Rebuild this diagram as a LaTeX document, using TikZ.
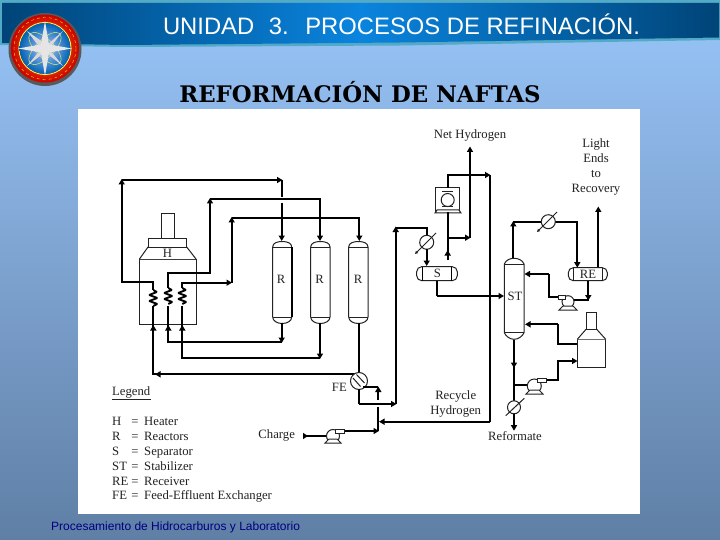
\documentclass[tikz,border=0pt]{standalone}
\usepackage{fontspec}
\setmainfont{Liberation Serif}
\newfontfamily\arialf{Liberation Sans}
\newfontfamily\slabf{DejaVu Serif}
\usetikzlibrary{arrows.meta,shadings}
\definecolor{bgtop}{HTML}{97C5FA}
\definecolor{bgmid}{HTML}{8DB6E6}
\definecolor{bgbot}{HTML}{5F7FA5}
\definecolor{bandl}{HTML}{004478}
\definecolor{bandr}{HTML}{0A84DE}
\definecolor{bandedge}{HTML}{52AAC6}
\definecolor{ink}{HTML}{222222}
\tikzset{
 pipe/.style={line width=1.9pt,draw=black},
 thinl/.style={line width=1pt,draw=ink},
 go/.style={pipe,-{Triangle[length=5.5pt,width=6pt]}},
 lab/.style={font=\fontsize{12.7}{13}\selectfont,text=ink,inner sep=0pt,text height=8.5pt,text depth=2.5pt,yshift=-1.2pt},
 leg/.style={lab,anchor=west},
 equip/.style={line width=1pt,draw=ink,fill=white},
}
\begin{document}
\begin{tikzpicture}[x=1pt,y=-1pt]
\useasboundingbox (0,0) rectangle (720,540);
\shade[top color=bgtop,bottom color=bgmid] (0,0) rectangle (720,120);
\shade[top color=bgmid,bottom color=bgbot] (0,120) rectangle (720,540);
% header
\fill[bandedge] (0,0) -- (720,0) -- (720,40) -- (400,45.5) -- (125,47) -- (0,45) -- cycle;
\shade[left color=bandl,right color=bandl,middle color=bandr] (2,3) -- (719,3) -- (719,37.5) -- (400,42.5) -- (125,45) -- (2,43) -- cycle;
\node[font=\arialf\fontsize{23.8}{24}\selectfont,text=white,inner sep=0pt] (title) at (401.5,24) {UNIDAD\,\, 3.\,\, PROCESOS DE REFINACIÓN.};
\node[font=\slabf\bfseries\fontsize{22.8}{23}\selectfont,text=black,inner sep=0pt] (sub) at (360,92) {REFORMACIÓN DE NAFTAS};
% logo
\fill[gray!70!black] (45,49.5) circle (36.5);
\shade[inner color=orange!85!yellow,outer color=red!80!black] (45,48.5) circle (34);
\draw[yellow!80!orange,line width=.4pt,dashed] (45,48.5) circle (31);
\draw[yellow!70!white,line width=1pt] (45,48.5) circle (26);
\shade[inner color=cyan!25!blue!30!white,outer color=blue!45!cyan!70!black] (45,48.5) circle (25.5);
\draw[yellow!60!green!60!white,line width=.6pt,rotate around={45:(45,48.5)}] (45,48.5) ellipse (21 and 9);
\draw[yellow!60!green!60!white,line width=.6pt,rotate around={-45:(45,48.5)}] (45,48.5) ellipse (21 and 9);
\fill[gray!30] (27,31) -- (47,45) -- (63,31) -- (49,49) -- (63,66) -- (45,52) -- (27,66) -- (41,49) -- cycle;
\fill[white!80!gray] (45,21) -- (49,44.5) -- (72,48.5) -- (49,52.5) -- (45,76) -- (41,52.5) -- (18,48.5) -- (41,44.5) -- cycle;
% sheet
\fill[white] (78,109) rectangle (640,514);
\node[font=\arialf\fontsize{12}{12}\selectfont,text={rgb,255:red,0;green,0;blue,130},inner sep=0pt,anchor=west] (foot) at (51,527) {Procesamiento de Hidrocarburos y Laboratorio};
% heater
\draw[equip] (139.5,259) rectangle (196,324);
\draw[equip] (161.7,214) rectangle (174.3,238);
\draw[equip] (139.5,259) -- (148,247) -- (186.7,247) -- (196,259);
\draw[equip] (148,238) rectangle (186.7,247);
\node[lab] (h) at (167.5,253) {H};
% reactors
\foreach \n/\xa/\xb in {ra/272.7/291.7,rb/310.7/330,rc/348.7/368}{
 \draw[equip] (\xa,247) .. controls (\xa,243) and ({(\xa+\xb)/2-5},241.5) .. ({(\xa+\xb)/2},241.5) .. controls ({(\xa+\xb)/2+5},241.5) and (\xb,243) .. (\xb,247)
  -- (\xb,317) .. controls (\xb,321) and ({(\xa+\xb)/2+5},323.5) .. ({(\xa+\xb)/2},323.5) .. controls ({(\xa+\xb)/2-5},323.5) and (\xa,321) .. (\xa,317) -- cycle;
 \draw[thinl] (\xa,247) -- (\xb,247) (\xa,317) -- (\xb,317);
}
\draw[pipe] (291.7,247) -- (291.7,317);
\node[lab] (r1) at (281,279) {R};
\node[lab] (r2) at (319.5,279) {R};
\node[lab] (r3) at (358,279) {R};
% coils
\foreach \x/\t/\b in {153.3/290/306,168.3/288/306,182.3/288/306}{
 \draw[pipe,line join=bevel] (\x,\t) -- (\x+3.5,{\t+2}) -- (\x-4,{\t+5}) -- (\x+4,{\t+8}) -- (\x-4,{\t+11}) -- (\x+4,{\t+14}) -- (\x,{\t+16});
}
% top loops
\coordinate (c1t) at (153.3,290);
\coordinate (c2t) at (168.3,288);
\coordinate (c3t) at (182.3,288);
\draw[go] (c1t) |- (121.7,281.7) -- (121.7,179);
\draw[go] (121.7,180) -- (282.5,180);
\draw[pipe] (281.7,180) -- (281.7,197);
\draw[go] (281.7,203) -- (281.7,241);
\draw[go] (c2t) |- (210,273) -- (210,198);
\draw[pipe] (210,199) -- (320,199) -- (320,220);
\draw[go] (320,218) -- (320,241);
\draw[go] (c3t) |- (232,282.7);
\draw[go] (231.7,282.7) -- (231.7,217);
\draw[pipe] (231.7,218) -- (359.3,218) -- (359.3,225);
\draw[go] (359.3,218) -- (359.3,241);
% return lines
\coordinate (c1b) at (153.3,306);
\coordinate (c2b) at (168.3,306);
\coordinate (c3b) at (182.3,306);
\draw[go] (359.3,374.3) -- (153.3,374.3) -- (153.3,325);
\draw[go] (200,374.3) -- (155,374.3);
\draw[pipe] (153.3,330) -- (c1b);
\draw[go] (281.7,323) -- (281.7,343);
\draw[go] (281.7,342.3) -- (168.3,342.3) -- (168.3,325);
\draw[pipe] (168.3,330) -- (c2b);
\draw[go] (320,323) -- (320,359);
\draw[go] (320,358.3) -- (182.3,358.3) -- (182.3,325);
\draw[pipe] (182.3,330) -- (c3b);
\draw[pipe] (359.3,323) -- (359.3,374);
% FE
\node[equip,circle,minimum size=17pt,inner sep=0pt] (fe) at (359,381) {};
\draw[thinl] (353,378) -- (360.5,386.5) (356.5,374.5) -- (364.5,383);
\node[lab,anchor=east] (felab) at (347,387) {FE};
% FE piping
\draw[pipe] (363,387) -- (378.3,387);
\draw[go] (378.3,400) -- (378.3,386.5);
\draw[pipe] (359,389) -- (359,404);
\draw[go] (359,404) -- (396.5,404);
\draw[pipe] (395.7,404) -- (395.7,228);
\draw[go] (395.7,240) -- (395.7,226.5);
\draw[pipe] (395.7,228) -- (426.7,228) -- (426.7,235);
% charge
\node[lab] (chg) at (276.7,434.3) {Charge};
\node[equip,circle,minimum size=13pt,inner sep=0pt] (pc) at (333,436) {};
\draw[equip] (335,429) rectangle (344.5,433);
\draw[equip] (325,443) -- (341,443) -- (337,439) -- (329,439) -- cycle;
\coordinate (chs) at (303,436);
\draw[pipe,{Triangle[reversed,length=5pt,width=6pt]}-] (chs) -- (pc.west);
\draw[go] (344.5,431) -- (379,431);
\draw[pipe] (378.3,431) -- (378.3,406.7);
% compressor
\draw[equip] (435.7,188) rectangle (459,212);
\draw[equip] (435,213) -- (461,213) -- (459,210) -- (437,210) -- cycle;
\node[equip,circle,minimum size=13pt,inner sep=0pt] (cp) at (447.7,200) {};
\draw[thinl] (442,192) -- (453,192) (442,207) -- (453,207);
% net hydrogen
\node[lab] (nh) at (470,134) {Net Hydrogen};
\draw[go] (447.7,260) -- (447.7,258) -- (447.7,250);
\draw[pipe] (447.7,252) -- (447.7,212);
\draw[pipe] (447.7,188) -- (447.7,175) -- (486,175);
\draw[go] (480,175) -- (490.5,175);
\draw[go] (447.7,237.7) -- (470.5,237.7);
\draw[go] (470,237.7) -- (470,146.5);
% recycle line
\draw[pipe] (490,175) -- (490,421.7);
\draw[go] (490,421.7) -- (379,421.7);
\node[lab] (rh1) at (455.7,395) {Recycle};
\node[lab] (rh2) at (455.7,410) {Hydrogen};
% separator S
\draw[equip,rounded corners=5pt] (416.7,266.7) rectangle (457.3,280.7);
\draw[pipe,line width=1.3pt] (422.5,267) -- (422.5,280.5) (451.5,267) -- (451.5,280.5);
\node[lab] (s) at (437.5,273.5) {S};
\node[equip,circle,minimum size=14pt,inner sep=0pt] (ex1) at (426.7,242.3) {};
\draw[thinl,-{Triangle[length=3pt,width=3pt]}] (436,233) -- (415,254);
\draw[go] (426.7,249) -- (426.7,266);
\draw[pipe] (437.3,281) -- (437.3,296);
\draw[go] (437.3,296) -- (504,296);
% stabilizer
\draw[equip] (504.3,264) .. controls (506,260) and (510,258.3) .. (514,258.3) .. controls (518,258.3) and (522.5,260) .. (524,264) -- (524,332.7) .. controls (522.5,336.5) and (518,339.3) .. (514,339.3) .. controls (510,339.3) and (506,336.5) .. (504.3,332.7) -- cycle;
\draw[thinl] (504.3,264) -- (524,264) (504.3,332.7) -- (524,332.7);
\node[lab] (st) at (515,296) {ST};
% overhead
\draw[go] (513.3,258) -- (513.3,221);
\draw[pipe] (513.3,221.7) -- (577.3,221.7) -- (577.3,250);
\draw[go] (577.3,250) -- (577.3,267.7);
\node[equip,circle,minimum size=14pt,inner sep=0pt] (ex2) at (548.3,221.7) {};
\draw[thinl,-{Triangle[length=3pt,width=3pt]}] (557,212) -- (537,232);
\draw[go] (598.3,267.7) -- (598.3,206.5);
\draw[equip,rounded corners=5pt] (568.3,267.7) rectangle (607.3,280.7);
\draw[thinl] (573,268) -- (573,280.5) (602.5,268) -- (602.5,280.5);
\node[lab] (re) at (588,274.5) {RE};
\node[lab] (l1) at (596,143) {Light};
\node[lab] (l2) at (596,158) {Ends};
\node[lab] (l3) at (596,173) {to};
\node[lab] (l4) at (596,188) {Recovery};
% reflux pump
\draw[pipe] (588.3,281) -- (588.3,300) -- (572,300);
\draw[go] (588.3,285) -- (588.3,300.5);
\node[equip,circle,minimum size=12pt,inner sep=0pt] (pr) at (568,301.7) {};
\draw[equip] (558,295) rectangle (565.5,299);
\draw[equip] (559,310) -- (577,310) -- (573,306) -- (563,306) -- cycle;
\draw[pipe] (558,297) -- (549,297) -- (549,274);
\draw[go] (549,274) -- (524.5,274);
% furnace
\draw[equip] (577.3,339.3) rectangle (605.7,367);
\draw[equip] (577.3,339.3) -- (586,329.3) -- (596.7,329.3) -- (605.7,339.3);
\draw[equip] (586,312.7) rectangle (596.7,329.3);
\draw[pipe] (577.3,344) -- (558.3,344) -- (558.3,324.3);
\draw[go] (558.3,324.3) -- (525,324.3);
\draw[go] (546.7,380) -- (558.3,380) -- (558.3,361) -- (577.5,361);
% bottoms
\draw[go] (514,339.5) -- (514,368);
\draw[pipe] (514,366) -- (514,401);
\draw[pipe] (514,385) -- (528,385);
\node[equip,circle,minimum size=14pt,inner sep=0pt] (pb) at (534.3,386) {};
\draw[equip] (537,378) rectangle (546.7,382);
\draw[equip] (526,394) -- (543,394) -- (539,390) -- (530,390) -- cycle;
\node[equip,circle,minimum size=13pt,inner sep=0pt] (ex3) at (514,407.3) {};
\draw[thinl] (505.7,415.7) -- (524.3,398.3);
\draw[go] (514,413.5) -- (514,430.7);
\node[lab] (ref) at (515,436.7) {Reformate};
% legend
\node[leg] (lg) at (112,391) {Legend};
\coordinate (lga) at (112,399);
\coordinate (lgb) at (151,399);
\draw[thinl] (lga) -- (lgb);
\foreach \n/\a/\b/\y in {a/H/Heater/421,b/R/Reactors/436,c/S/Separator/451,d/ST/Stabilizer/466,e/RE/Receiver/481,f/FE/Feed-Effluent Exchanger/495}{
 \node[leg] (k\n) at (112,\y) {\a};
 \node[lab] (q\n) at (135,\y) {=};
 \node[leg] (t\n) at (144,\y) {\b};
}
\end{tikzpicture}
\end{document}
